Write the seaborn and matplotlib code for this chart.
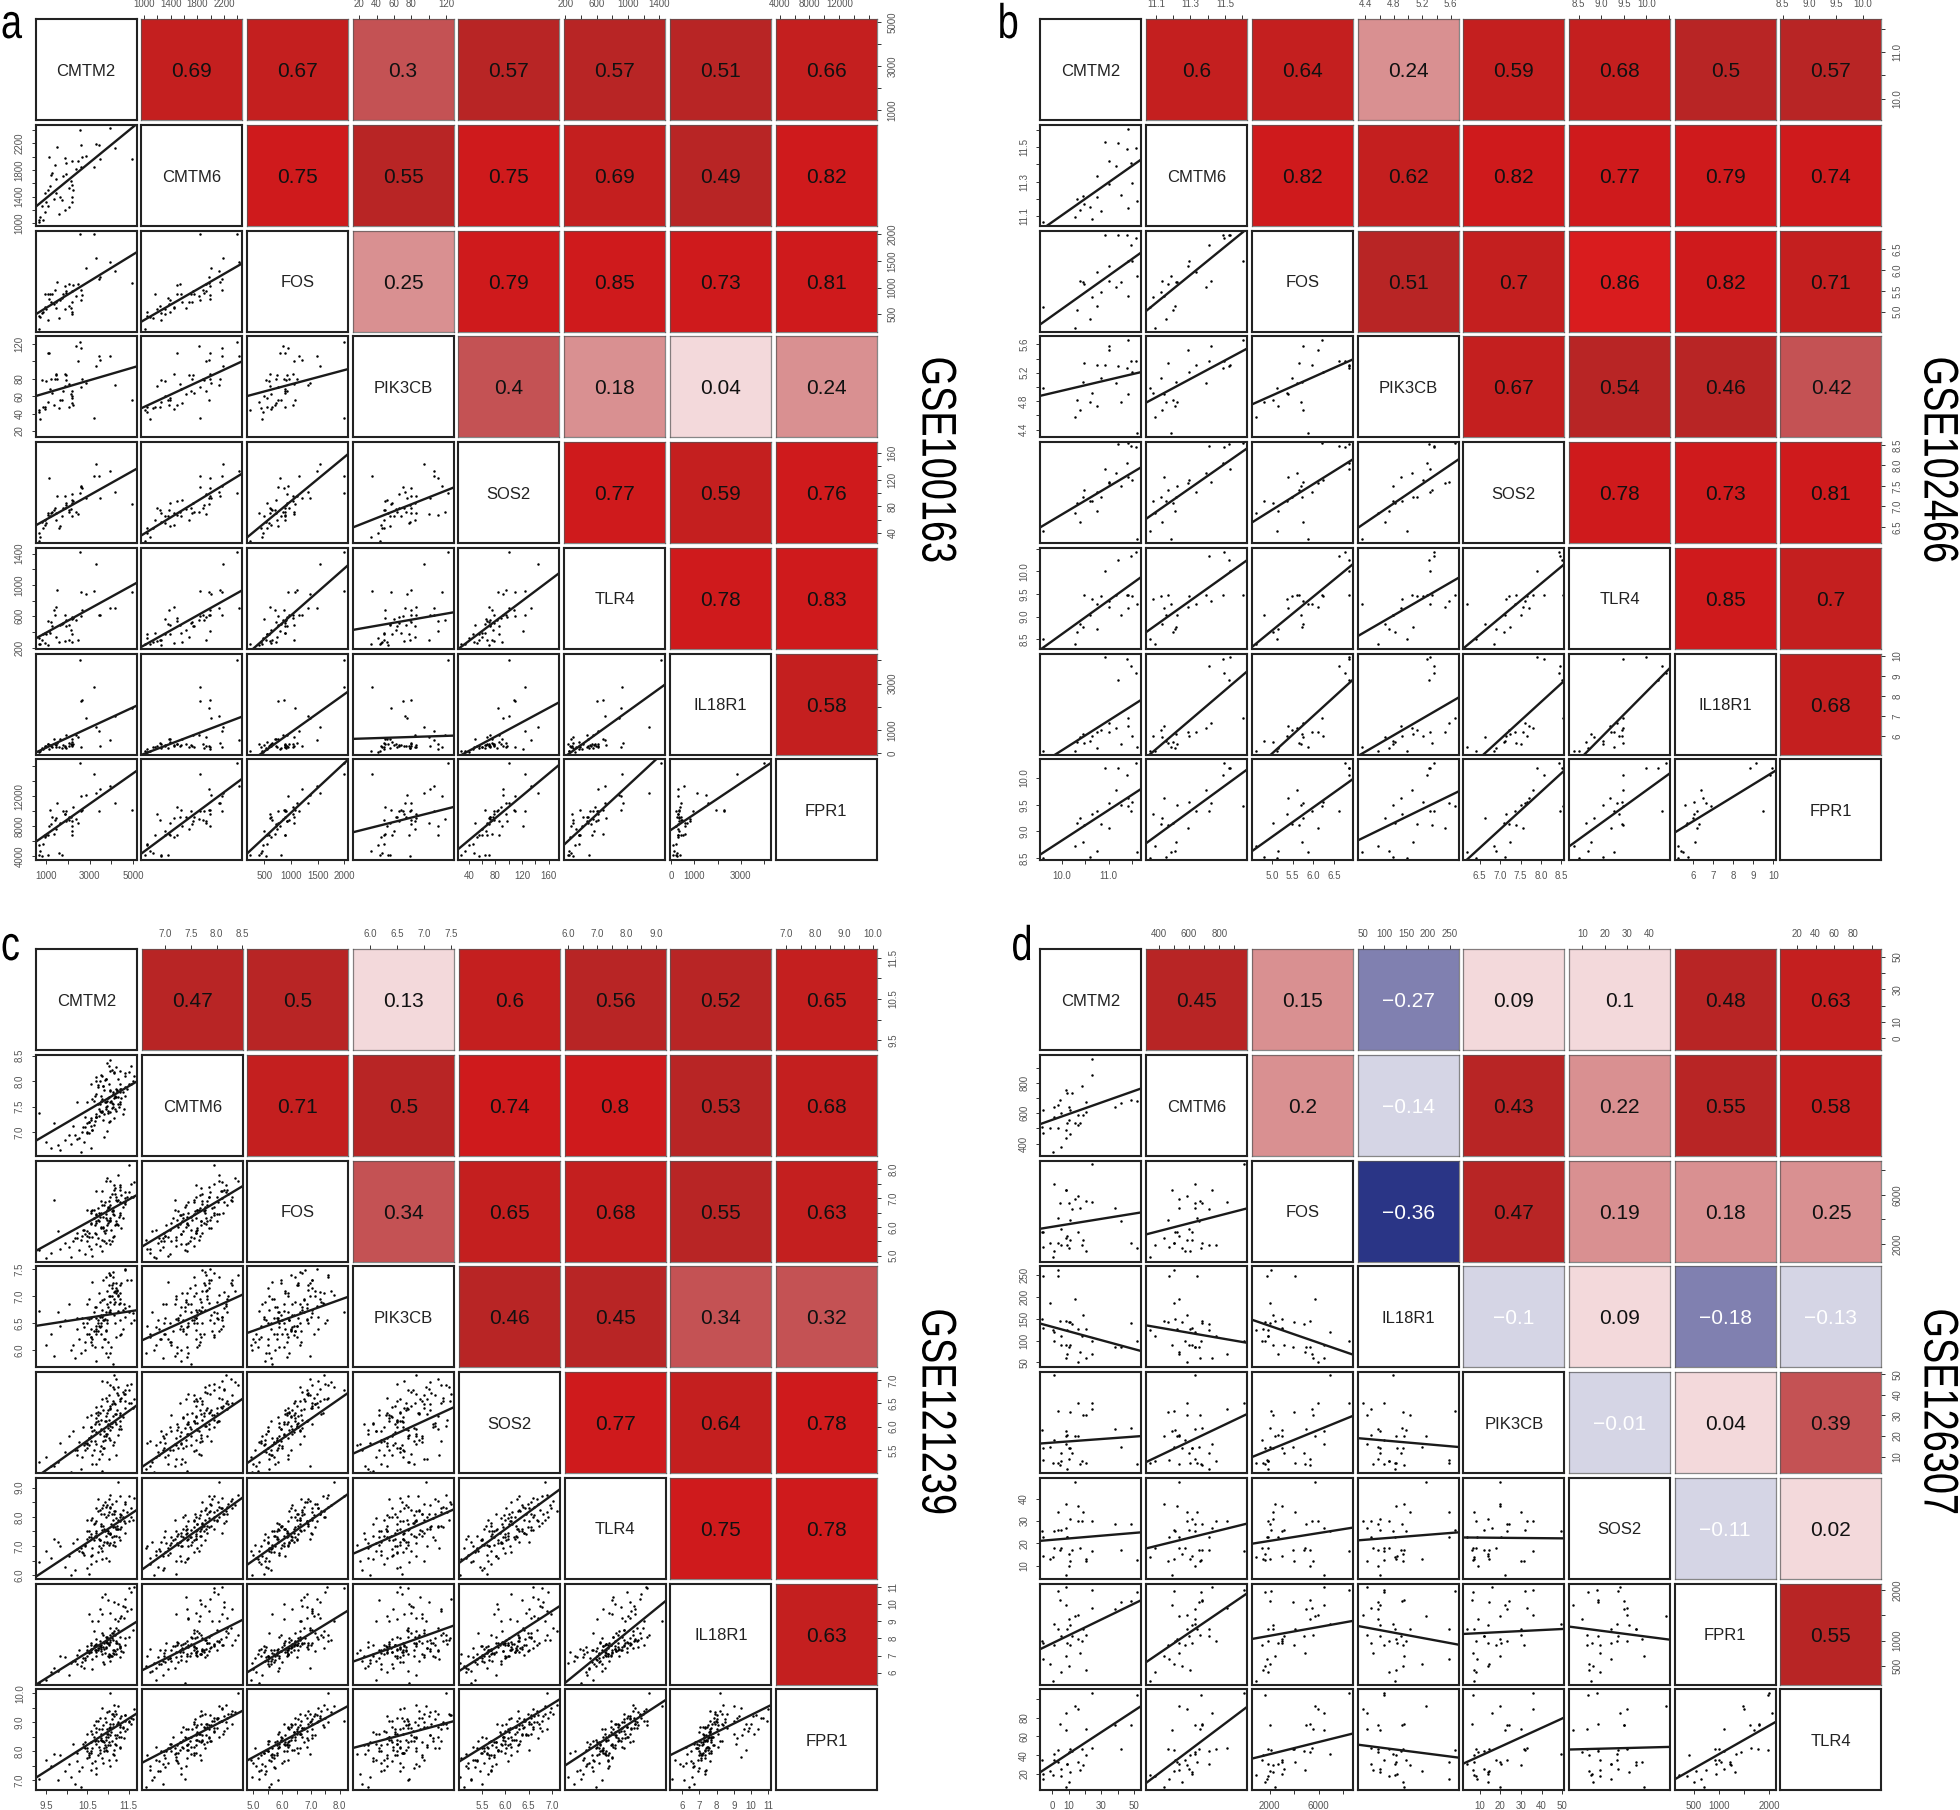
import numpy as np
import matplotlib
matplotlib.use("Agg")
import matplotlib.pyplot as plt
from matplotlib.colors import ListedColormap, BoundaryNorm
from matplotlib.patheffects import AbstractPathEffect
from matplotlib.transforms import Affine2D
import seaborn as sns

sns.set_theme(style="white")
plt.rcParams["font.family"] = ["Liberation Sans", "DejaVu Sans"]

GENES_ABC = ["CMTM2", "CMTM6", "FOS", "PIK3CB", "SOS2", "TLR4", "IL18R1", "FPR1"]
GENES_D = ["CMTM2", "CMTM6", "FOS", "IL18R1", "PIK3CB", "SOS2", "FPR1", "TLR4"]

# ---------- panel a: GSE100163 ----------
A_CMTM2 = [701,762,671,884,960,808,1036,1127,1096,1188,990,1385,1461,1613,1674,1765,1872,2069,2191,2221,2069,2252,2176,2221,1309,1264,1461,1796,1948,1446,1157,1522,1887,1917,2221,2480,2662,2860,2632,2404,2601,2571,3316,3437,3209,3467,3924,4152,4960]
A_CMTM6 = [1020,1095,1045,1045,1170,1255,1320,1255,1495,1555,1455,1370,1455,1135,1395,1355,1195,1245,1320,1395,1535,1495,1630,1570,1755,1720,1670,1705,1735,1880,1995,2145,1985,1905,1935,1935,1995,2005,1845,1820,2170,2395,2185,2175,1845,1970,2420,2130,1970]
A_FOS = [230,450,470,540,880,530,590,400,880,880,630,690,610,430,760,810,600,650,500,550,1060,1040,620,720,880,720,730,880,930,960,790,1110,1030,900,930,1060,870,1360,760,840,950,2000,1550,1154,2000,1200,1487,1311,1079]
A_PIK3CB = [44,34,42,48,48,78,77,53,110,68,45,50,85,46,55,55,72,48,60,58,74,50,62,52,63,80,84,66,84,80,110,80,85,78,66,100,80,75,70,118,115,122,95,106,35,101,106,73,56]
A_SOS2 = [28,34,40,47,60,56,55,70,67,65,52,75,70,48,50,65,78,75,66,85,72,88,76,90,72,70,60,78,85,78,122,96,96,82,98,68,108,92,109,72,110,100,144,125,125,92,133,101,84]
A_TLR4 = [250,240,320,370,390,300,370,230,540,380,260,680,720,270,490,500,280,300,560,370,490,580,430,270,480,530,340,510,480,620,410,930,610,550,590,300,680,890,600,550,910,1420,1267,620,927,610,705,705,910]
A_IL18R1 = [90,120,60,200,280,240,300,380,410,350,300,600,350,250,600,220,300,450,350,500,330,380,420,600,260,300,280,350,800,410,190,430,280,230,320,700,2280,1500,2270,800,280,4000,1127,944,2850,310,563,1590,1945]
A_FPR1 = [4200,4700,5500,5700,6800,4100,6800,4200,6900,10200,6600,7000,9100,4400,8400,4200,9600,8900,7400,6900,9300,10600,9200,8000,9200,8300,7600,10000,8700,8900,8100,11100,9700,10100,8700,8500,10200,12200,10000,9000,12000,16500,12500,10000,15000,13000,13400,11120,10140]
A_LIMITS = [(534,5146),(958,2472),(170,2069),(12.5,128.5),(24.5,176),(183,1472),(-57,4286),(3467,16950)]
A_TICKS = [[1000,2000,3000,4000,5000],[1000,1200,1400,1600,1800,2000,2200,2400],[500,1000,1500,2000],[20,40,60,80,100,120],[40,60,80,100,120,140,160],[200,400,600,800,1000,1200,1400],[0,1000,2000,3000,4000],[4000,6000,8000,10000,12000,14000,16000]]
A_LABELS = [["1000","3000","5000"],["1000","1400","1800","2200"],["500","1000","1500","2000"],["20","40","60","80","120"],["40","80","120","160"],["200","600","1000","1400"],["0","1000","3000"],["4000","8000","12000"]]
A_R = [[.69,.67,.3,.57,.57,.51,.66],[.75,.55,.75,.69,.49,.82],[.25,.79,.85,.73,.81],[.4,.18,.04,.24],[.77,.59,.76],[.78,.83],[.58]]
A_FIT = [[(1245,2485)],
         [(496,1662),(358,1455)],
         [(60,94),(46,100),(60,91)],
         [(51,136),(36,129),(33,158),(48,108)],
         [(315,1025),(208,931),(115,1250),(425,650),(183,1152)],
         [(28,2044),(-71,1579),(-452,2650),(620,760),(-141,2199),(-170,2960)],
         [(5915,15400),(4357,14370),(4357,16900),(7205,10590),(4980,16240),(5560,18060),(7430,16460)]]

# ---------- panel b: GSE102466 ----------
B_CMTM2 = [9.58,10.27,10.65,10.39,10.60,10.48,10.31,10.44,10.75,10.84,10.75,11.01,11.27,11.43,11.62,11.50,11.01,11.17,11.49,10.93,11.21,11.39,11.59,11.41]
B_CMTM6 = [11.069,11.098,11.082,11.136,11.156,11.171,11.200,11.217,11.213,11.132,11.331,11.285,11.225,11.148,11.186,11.294,11.419,11.390,11.406,11.527,11.521,11.488,11.492,11.606]
B_FOS = [5.12,4.62,5.36,5.75,4.82,5.66,5.04,5.72,5.15,5.48,5.96,6.10,5.71,5.38,5.86,6.23,5.74,5.60,6.61,6.85,6.85,6.85,6.77,6.22]
B_PIK3CB = [4.98,4.58,4.91,4.67,4.79,5.33,4.82,5.07,4.73,5.12,5.31,5.52,4.79,4.90,4.35,5.21,5.57,5.05,5.37,5.31,5.30,5.27,5.37,5.66]
B_SOS2 = [6.40,6.85,7.14,6.62,7.12,7.40,7.09,7.24,6.89,7.22,7.36,7.57,7.51,7.71,6.20,7.65,7.60,7.81,8.47,7.91,8.52,8.07,8.45,8.55]
B_TLR4 = [8.51,8.39,9.40,8.85,9.03,9.49,8.66,8.77,8.72,9.46,9.29,9.22,9.03,9.20,9.29,9.46,9.35,9.49,10.35,10.0,10.25,9.48,10.44,9.48]
B_IL18R1 = [5.24,5.24,6.01,5.96,5.75,5.63,5.70,6.10,5.38,6.30,6.18,6.20,5.58,6.47,5.46,6.01,6.63,6.38,9.48,9.93,8.81,9.85,9.15,6.89]
B_FPR1 = [8.50,8.72,9.33,9.25,8.53,9.13,9.15,8.80,8.64,9.14,9.39,9.07,9.50,9.63,8.62,9.56,9.53,9.78,9.39,10.19,10.19,10.06,10.28,9.47]
B_LIMITS = [(9.53,11.71),(11.044,11.627),(4.52,6.95),(4.29,5.71),(6.1,8.57),(8.29,10.52),(5.06,10.12),(8.46,10.35)]
B_TICKS = [[10,10.5,11,11.5],[11.1,11.2,11.3,11.4,11.5,11.6],[5,5.5,6,6.5],[4.4,4.6,4.8,5,5.2,5.4,5.6],[6.5,7,7.5,8,8.5],[8.5,9,9.5,10,10.5],[6,7,8,9,10],[8.5,9,9.5,10]]
B_LABELS = [["10.0","11.0"],["11.1","11.3","11.5"],["5.0","5.5","6.0","6.5"],["4.4","4.8","5.2","5.6"],["6.5","7.0","7.5","8.0","8.5"],["8.5","9.0","9.5","10.0"],["6","7","8","9","10"],["8.5","9.0","9.5","10.0"]]
B_R = [[.6,.64,.24,.59,.68,.5,.57],[.82,.62,.82,.77,.79,.74],[.51,.7,.86,.82,.71],[.67,.54,.46,.42],[.78,.73,.81],[.85,.7],[.68]]
B_FIT = [[(11.019,11.429)],
         [(4.70,6.43),(5.02,7.0)],
         [(4.876,5.21),(4.78,5.54),(4.754,5.387)],
         [(6.49,7.96),(6.695,8.42),(6.605,8.15),(6.47,8.15)],
         [(8.275,9.88),(8.66,10.25),(8.33,10.16),(8.57,9.86),(8.30,10.16)],
         [(4.59,7.81),(4.91,9.23),(4.19,8.81),(4.98,7.92),(4.14,8.76),(4.29,9.40)],
         [(8.57,9.80),(8.78,10.16),(8.63,9.98),(8.83,9.75),(8.41,10.14),(8.72,10.09),(8.98,10.14)]]

# ---------- panel c: GSE121239 (hand-estimated subset of the dense clouds) ----------
C_CMTM2 = [9.33,10.2,9.62,10.55,9.5,10.35,9.85,10.62,9.95,10.1, 10.45,9.78,10.7,10.25,10.05,10.85,10.38,10.6,9.7,10.5, 10.88,10.3,10.62,10.95,10.42,10.72,10.15,10.8,10.55,11.02, 10.5,11.05,10.68,10.25,10.9,10.78,11.12,10.4,10.85,10.6, 11.1,10.65,10.82,10.45,10.98,10.75,11.2,10.55,11.0,10.9, 10.72,11.15,10.58,10.95,11.28,10.84,10.5,11.05,10.68,11.18, 10.92,10.6,11.22,10.8,11.08,10.48,10.98,11.32,10.7,11.02, 11.0,10.7,11.3,10.88,11.15,10.62,11.05,10.78,11.25,10.95, 10.82,11.2,10.58,11.05,11.35,10.9,11.12,10.72,11.0,11.26, 11.1,10.75,11.38,10.96,11.18,10.65,11.3,10.85,11.05,11.42, 10.88,11.25,10.7,11.12,11.4,10.98,11.2,10.8,11.32,11.02, 11.18,10.82,11.45,11.05,11.3,10.92,11.12,11.5,10.75,11.22, 10.95,11.35,11.1,11.55,11.02,11.28,10.85,11.42,11.15,11.6, 11.3,11.05,11.5,11.2,11.62,10.98,11.4,11.15,11.55,11.25]
C_CMTM6 = [7.38,6.95,6.7,7.2,6.82,6.62,6.65,7.05,6.85,6.78, 7.1,6.75,7.3,6.88,6.95,7.42,7.0,6.7,7.18,6.98, 7.25,6.9,7.05,7.45,6.82,7.3,7.12,7.55,6.98,7.2, 7.0,7.4,7.22,7.6,6.92,7.32,7.5,7.1,7.65,7.28, 7.48,7.15,7.62,7.3,7.02,7.55,7.7,7.2,7.42,7.35, 7.3,7.68,7.12,7.5,7.78,7.4,7.6,7.22,7.72,7.45, 7.6,7.25,7.8,7.42,7.62,7.18,7.52,7.85,7.35,7.7, 7.38,7.75,7.55,7.9,7.28,7.65,7.82,7.45,7.7,7.6, 7.72,7.42,7.95,7.6,7.35,7.82,7.55,8.0,7.68,7.5, 7.58,7.88,7.45,8.05,7.72,7.62,7.95,7.4,7.8,8.1, 7.9,7.55,8.08,7.75,8.15,7.62,7.85,8.0,7.68,7.95, 7.7,8.12,7.85,8.2,7.6,8.02,7.78,8.18,7.92,7.82, 8.05,7.78,8.22,7.95,8.3,7.85,8.1,7.72,8.15,8.0, 8.2,8.42,7.95,8.28,8.1,8.35,7.88,8.18,8.3,8.05]
C_FOS = [5.2,5.6,5.1,5.35,4.92,5.55,5.25,5.0,5.45,4.95, 5.05,5.85,5.4,5.6,5.3,5.15,5.7,5.25,6.95,5.5, 6.0,5.2,5.65,5.45,5.9,5.75,5.5,5.35,5.8,5.55, 5.7,5.4,6.05,5.8,5.5,6.2,5.65,5.9,5.55,6.1, 5.5,6.3,5.95,5.75,6.05,5.6,6.2,5.65,6.15,5.85, 6.4,5.7,6.15,5.9,6.5,6.0,5.85,6.25,5.8,6.05, 5.8,6.55,6.1,6.35,5.9,6.6,6.25,5.95,6.45,6.2, 6.7,6.15,6.85,5.95,6.4,6.6,6.2,6.5,6.05,6.3, 6.9,6.1,6.5,7.05,6.3,6.75,6.45,6.2,6.65,6.35, 6.55,6.25,6.85,6.45,7.15,6.6,6.4,6.75,6.3,7.0, 6.35,6.95,7.25,6.55,6.85,6.6,7.05,6.45,7.1,6.7, 7.35,6.5,7.05,6.75,7.45,6.85,6.6,7.2,6.65,6.9, 7.6,6.7,7.15,7.5,6.9,7.4,7.25,6.8,7.3,7.05, 7.3,7.6,8.15,6.95,7.55,7.7,7.2,7.45,7.05,7.8]
C_PIK3CB = [6.72,5.85,6.3,6.58,6.1,5.95,6.45,6.2,6.55,6.0, 6.15,6.7,5.8,6.4,6.85,6.05,6.6,6.25,5.9,6.5, 6.55,6.2,7.27,5.95,6.42,6.8,6.1,6.62,6.3,7.0, 6.3,6.9,6.05,6.6,6.2,7.05,5.75,6.5,6.75,6.4, 7.15,6.35,6.65,6.0,6.85,6.5,6.25,6.95,5.88,6.55, 6.45,6.95,6.15,6.7,7.2,6.3,6.6,5.95,6.8,6.5, 6.2,6.6,7.1,6.42,6.05,6.85,6.55,7.25,6.35,6.7, 6.8,6.3,6.55,7.3,6.65,6.1,7.0,6.45,6.72,6.38, 6.5,7.05,6.25,6.75,6.4,6.95,7.35,6.6,6.15,6.85, 7.2,6.55,6.85,6.35,7.1,6.7,6.28,6.92,7.4,6.62, 6.65,7.0,6.4,7.25,6.78,6.5,7.15,6.9,6.3,7.42, 6.9,6.45,7.3,6.7,7.05,6.58,7.45,6.82,6.35,7.12, 7.35,6.75,7.0,6.5,7.2,6.88,6.62,7.48,7.08,6.68, 6.95,7.4,6.7,7.25,6.55,7.1,7.5,6.85,7.3,7.02]
C_SOS2 = [5.25,5.5,5.15,5.6,5.35,5.1,5.65,5.2,5.45,5.02, 5.5,5.25,5.62,5.4,5.8,5.05,5.35,5.7,5.15,5.55, 5.55,5.68,5.4,5.85,5.6,5.2,5.9,5.48,5.75,5.3, 5.65,5.72,6.05,5.5,5.9,5.3,5.6,6.0,5.42,5.8, 6.0,5.5,5.95,5.65,5.85,6.12,5.4,5.75,6.05,5.55, 5.88,5.68,6.25,5.8,6.02,5.58,6.2,5.92,5.7,6.1, 5.72,6.0,6.35,5.85,6.08,5.62,6.3,5.95,6.18,5.75, 5.98,6.3,6.12,5.7,6.5,5.9,6.4,6.05,5.82,6.22, 6.15,6.28,6.0,6.45,6.2,5.8,6.55,6.1,6.35,5.95, 6.08,6.32,6.7,6.12,6.48,5.92,6.25,6.6,6.02,6.4, 6.35,6.68,6.42,6.22,6.78,6.55,6.05,6.3,6.62,6.15, 6.28,6.45,6.9,6.38,6.6,6.12,6.85,6.5,6.25,6.72, 6.62,6.75,6.48,6.92,6.68,6.3,6.98,6.55,6.8,6.4, 6.55,6.9,6.78,7.02,6.6,6.95,6.7,7.1,6.5,6.85]
C_TLR4 = [6.45,6.2,6.6,6.05,6.85,6.95,7.0,6.7,6.3,6.0, 7.05,7.15,6.5,6.9,6.65,6.55,6.8,6.4,7.25,6.25, 7.05,6.85,6.95,6.6,6.7,7.35,7.1,7.2,7.3,6.5, 7.5,7.4,7.35,7.25,7.15,7.0,7.05,6.75,6.85,6.65, 7.3,7.2,6.95,7.0,7.1,6.8,7.35,7.5,7.45,7.6, 7.45,7.35,7.3,7.55,7.2,7.7,7.25,7.1,7.8,7.0, 7.5,7.4,7.6,7.2,7.75,7.9,7.15,7.65,7.3,7.05, 8.05,7.5,7.85,7.7,7.15,7.95,7.45,7.25,7.6,7.35, 7.75,7.6,7.9,7.4,8.0,8.1,7.65,7.85,7.5,7.3, 8.1,8.2,7.85,8.0,7.65,7.75,7.6,7.55,8.3,7.45, 8.4,7.9,8.3,7.7,7.8,7.55,7.95,8.25,8.05,8.15, 8.2,8.1,8.15,8.35,8.0,8.5,7.9,7.85,8.6,7.7, 8.35,8.25,8.45,8.0,8.6,8.7,8.3,8.5,8.1,7.9, 8.1,8.75,8.7,8.55,8.65,8.4,8.45,8.2,8.3,9.2]
C_IL18R1 = [5.4,6.7,6.05,7.2,5.6,6.4,7.0,6.2,6.9,6.55, 6.85,6.1,7.3,6.5,5.85,7.1,6.65,7.4,6.3,6.95, 6.6,7.35,6.8,7.5,6.25,7.0,6.7,7.55,7.15,6.9, 7.3,6.7,7.6,7.05,6.5,7.45,7.15,6.85,8.3,7.2, 7.0,7.55,7.25,6.75,7.7,7.35,7.1,9.4,6.95,7.4, 7.6,7.1,7.35,8.1,6.9,7.5,7.2,7.8,7.3,9.1, 7.15,7.7,7.4,9.7,7.0,7.55,8.0,7.25,7.65,7.1, 7.75,7.2,7.5,8.2,7.3,9.0,7.05,7.6,10.0,7.45, 7.4,7.85,7.6,9.5,7.2,7.7,8.3,7.35,10.2,7.65, 8.0,7.45,9.2,7.8,7.25,8.4,7.55,10.4,7.9,7.6, 7.5,8.5,7.95,7.3,9.8,8.1,7.7,7.85,9.3,7.65, 8.2,7.6,9.6,8.6,7.45,10.6,7.9,8.05,9.0,7.75, 7.85,9.9,8.3,10.7,7.6,8.1,9.4,8.0,10.1,8.5, 9.2,8.2,10.9,8.6,11.0,7.9,10.3,8.4,9.7,9.0]
C_FPR1 = [7.05,6.85,7.5,7.95,7.7,6.75,7.85,7.6,7.3,7.1, 8.1,7.0,7.2,7.65,7.55,7.75,7.45,7.35,7.9,8.0, 7.6,7.3,8.1,8.05,8.15,7.4,8.25,7.95,7.85,7.7, 7.75,7.5,7.65,7.95,8.0,8.15,7.9,8.25,8.35,8.3, 8.35,8.5,8.4,8.3,8.0,7.85,7.7,7.8,8.2,8.1, 8.65,7.85,8.0,8.15,8.1,8.45,8.6,8.2,8.35,8.25, 8.2,7.95,8.55,8.05,8.65,8.1,8.75,8.5,8.4,8.3, 8.5,8.25,8.15,8.35,8.05,8.6,8.85,8.75,8.95,8.4, 8.4,8.2,8.7,8.55,8.85,8.3,8.95,8.8,8.6,8.5, 9.1,8.35,8.45,8.5,8.55,8.9,8.65,8.75,8.95,9.05, 8.9,9.0,9.05,8.85,8.7,8.6,8.45,9.15,9.2,8.8, 9.4,8.6,8.75,8.8,8.85,9.15,9.3,9.0,9.05,8.95, 9.0,8.8,9.3,9.15,9.4,8.9,9.5,9.25,9.2,9.1, 9.15,10.0,9.05,9.3,9.45,9.35,9.25,9.6,8.95,9.55]
C_LIMITS = [(9.26,11.70),(6.54,8.51),(4.79,8.30),(5.68,7.55),(5.0,7.17),(5.88,9.33),(5.31,11.18),(6.64,10.14)]
C_TICKS = [[9.5,10,10.5,11,11.5],[7,7.5,8,8.5],[5,5.5,6,6.5,7,7.5,8],[6,6.5,7,7.5],[5.5,6,6.5,7],[6,6.5,7,7.5,8,8.5,9],[6,7,8,9,10,11],[7,7.5,8,8.5,9,9.5,10]]
C_LABELS = [["9.5","10.5","11.5"],["7.0","7.5","8.0","8.5"],["5.0","6.0","7.0","8.0"],["6.0","6.5","7.0","7.5"],["5.5","6.0","6.5","7.0"],["6.0","7.0","8.0","9.0"],["6","7","8","9","10","11"],["7.0","8.0","9.0","10.0"]]
C_R = [[.47,.5,.13,.6,.56,.52,.65],[.71,.5,.74,.8,.53,.68],[.34,.65,.68,.55,.63],[.46,.45,.34,.32],[.77,.64,.78],[.75,.78],[.63]]
C_FIT = [[(6.84,7.996)],
         [(5.17,7.11),(5.31,7.42)],
         [(6.45,6.74),(6.18,7.03),(6.32,6.99)],
         [(4.91,6.46),(5.13,6.60),(5.22,6.73),(5.42,6.42)],
         [(5.96,8.24),(6.19,8.66),(6.37,8.79),(6.74,8.26),(6.42,8.94)],
         [(5.31,8.98),(6.13,9.08),(6.03,9.63),(6.65,8.75),(6.09,9.88),(5.39,10.17)],
         [(7.08,9.31),(7.59,9.40),(7.68,9.57),(8.11,9.04),(7.63,9.80),(7.49,9.77),(7.86,9.60)]]

# ---------- panel d: GSE126307 ----------
D_CMTM2 = [0.1,5.4,8,11,-5.9,-6.6,-1.4,3.5,8,9.1,13.6,15.5,16.6,10.3,15.9,18.5,20.4,11,10.3,0.9,3.5,0.9,4.6,-5.9,9.1,8.4,12.1,17.8,24.2,24.2,20.4,38.1,41.8,48.2,51.6,5.4]
D_CMTM6 = [342,375,439,461,472,511,500,500,489,533,533,522,533,555,588,588,610,621,643,643,654,577,687,621,731,753,735,779,851,961,676,643,669,687,682,599]
D_FOS = [900,1900,2450,3945,1770,2993,2040,2100,6395,2670,5700,3000,4900,1630,5930,2310,1415,2310,5300,6880,4080,1400,5300,3000,1900,6400,4830,1900,5440,8480,5500,4950,3890,2040,1630,3200]
D_IL18R1 = [125,110,145,143,247,150,187,262,90,70,195,127,75,143,50,158,127,90,85,120,247,100,145,130,125,60,139,110,70,100,60,85,85,141,100,90]
D_PIK3CB = [7,8,20,31.6,8.5,23,14.5,32,22.4,20.5,20,20,6.5,14,36,30,7,14,9,49.5,7,18,6,14,3.8,16,12,8,33,36,30,23.4,14.7,24,6.5,12]
D_SOS2 = [14,18,37.5,12,22.8,25.5,13,26,6,23,47.5,36.5,18,15,30,34,13,31,10,25.5,34,18,17,14.5,23,27,17,30,30,16.5,12,28.8,17,28.8,12.7,26]
D_FPR1 = [205,371,700,918,638,1000,538,1983,1703,951,1484,1037,751,504,1504,1237,418,1317,1437,1337,1224,918,1800,950,1224,2056,1100,1000,1637,2000,1104,1617,1770,1790,1970,1100]
D_TLR4 = [18.6,17.5,6.2,47,15,34.6,22.8,46,66.5,31,92,32.8,24,11.5,89,30,40,22,43,41.6,32.8,34.6,73.6,20,31,85,44,47,48,106,68,72.5,47,72.5,104.5,25]
D_LIMITS = [(-7.4,54.5),(318,984),(545,8780),(38.5,270),(2,51),(4.1,49.2),(125,2130),(2.6,110)]
D_TICKS = [[0,10,20,30,40,50],[400,500,600,700,800,900],[2000,4000,6000,8000],[50,100,150,200,250],[10,20,30,40,50],[10,20,30,40],[500,1000,1500,2000],[20,40,60,80,100]]
D_LABELS = [["0","10","30","50"],["400","600","800"],["2000","6000"],["50","100","150","200","250"],["10","20","30","40","50"],["10","20","30","40"],["500","1000","2000"],["20","40","60","80"]]
D_R = [[.45,.15,-.27,.09,.1,.48,.63],[.2,-.14,.43,.22,.55,.58],[-.36,.47,.19,.18,.25],[-.1,.09,-.18,-.13],[-.01,.04,.39],[-.11,.02],[.55]]
D_FIT = [[(529,764)],
         [(3238,4570),(2775,4897)],
         [(139,76),(135,95),(148,68)],
         [(16.4,20),(7.4,30.7),(9.8,29.8),(19,14.7)],
         [(21.1,24.9),(17.7,28.8),(19.8,27),(21.3,24.9),(22.6,22.2)],
         [(831,1803),(571,1937),(1031,1390),(1290,918),(1131,1231),(1277,1017)],
         [(22,92.4),(10.4,91.4),(36.3,63),(51.2,37.4),(31,80),(46,48.8),(14.3,75.4)]]

PANELS = [
    dict(letter="a", title="GSE100163", genes=GENES_ABC, lim=A_LIMITS, ticks=A_TICKS, labels=A_LABELS, r=A_R, fit=A_FIT,
         data=[A_CMTM2,A_CMTM6,A_FOS,A_PIK3CB,A_SOS2,A_TLR4,A_IL18R1,A_FPR1],
         x0=35.5, y0=19.3, lx=0.5, ly=38, tx=935, ty=460),
    dict(letter="b", title="GSE102466", genes=GENES_ABC, lim=B_LIMITS, ticks=B_TICKS, labels=B_LABELS, r=B_R, fit=B_FIT,
         data=[B_CMTM2,B_CMTM6,B_FOS,B_PIK3CB,B_SOS2,B_TLR4,B_IL18R1,B_FPR1],
         x0=1040.4, y0=19.3, lx=997, ly=38, tx=1937, ty=460),
    dict(letter="c", title="GSE121239", genes=GENES_ABC, lim=C_LIMITS, ticks=C_TICKS, labels=C_LABELS, r=C_R, fit=C_FIT,
         data=[C_CMTM2,C_CMTM6,C_FOS,C_PIK3CB,C_SOS2,C_TLR4,C_IL18R1,C_FPR1],
         x0=36.0, y0=949.3, lx=0.5, ly=960, tx=935, ty=1412),
    dict(letter="d", title="GSE126307", genes=GENES_D, lim=D_LIMITS, ticks=D_TICKS, labels=D_LABELS, r=D_R, fit=D_FIT,
         data=[D_CMTM2,D_CMTM6,D_FOS,D_IL18R1,D_PIK3CB,D_SOS2,D_FPR1,D_TLR4],
         x0=1040.4, y0=949.3, lx=1011, ly=960, tx=1937, ty=1412),
]

W, H = 1960, 1810
CELL, PITCH = 101.0, 105.72
COLORS = ["#2a3586", "#8080b0", "#d5d5e5", "#f3d9db", "#d99091", "#c45254",
          "#b82525", "#c41f1f", "#cf1a1c", "#d91c1e"]
BOUNDS = [-0.4, -0.3, -0.15, 0.0, 0.14, 0.28, 0.425, 0.575, 0.725, 0.855, 1.0]
CMAP = ListedColormap(COLORS)
NORM = BoundaryNorm(BOUNDS, CMAP.N)


class Condense(AbstractPathEffect):
    """Narrow a real text artist along its reading direction."""

    def __init__(self, factor, anchor="center"):
        super().__init__()
        self.factor = factor
        self.anchor = anchor

    def draw_path(self, renderer, gc, tpath, affine, rgbFace=None):
        ext = tpath.get_extents()
        cx = ext.x0 if self.anchor == "left" else 0.5 * (ext.x0 + ext.x1)
        squeeze = Affine2D().translate(-cx, 0).scale(self.factor, 1).translate(cx, 0)
        renderer.draw_path(gc, tpath, squeeze + affine, rgbFace)


fig = plt.figure(figsize=(W / 100, H / 100), dpi=100, facecolor="white")


def rect(x, y):
    return [x / W, 1 - (y + CELL) / H, CELL / W, CELL / H]


def fmt_ticks(ax, axis, ticks, labels):
    shown = []
    for t in ticks:
        cand = [l for l in labels if float(l) == t]
        shown.append(cand[0] if cand else "")
    if axis == "x":
        ax.set_xticks(ticks, shown)
    else:
        ax.set_yticks(ticks, shown)
        for tk in ax.yaxis.get_major_ticks():
            for lab in (tk.label1, tk.label2):
                lab.set_rotation(90)
                lab.set_va("center")


for p in PANELS:
    n = len(p["genes"])
    for row in range(n):
        for col in range(n):
            x = p["x0"] + col * PITCH
            y = p["y0"] + row * PITCH
            ax = fig.add_axes(rect(x, y))
            xlo, xhi = p["lim"][col]
            ylo, yhi = p["lim"][row]
            if col > row:
                val = p["r"][row][col - row - 1]
                txt = f"{val:g}".replace("-", "\u2212")
                sns.heatmap(np.array([[val]]), ax=ax, cmap=CMAP, norm=NORM, cbar=False,
                            annot=np.array([[txt]]), fmt="", xticklabels=False, yticklabels=False,
                            annot_kws={"fontsize": 15, "va": "center_baseline",
                                       "color": "white" if val < 0 else "#111111"})
                ax.set_xlabel("")
                ax.set_ylabel("")
                ax = fig.add_axes(rect(x, y), facecolor="none")
                for s in ax.spines.values():
                    s.set_edgecolor("#555555")
                    s.set_alpha(0.7)
                    s.set_linewidth(0.9)
            else:
                ax.set_facecolor("white")
                for s in ax.spines.values():
                    s.set_edgecolor("#222222")
                    s.set_linewidth(1.5)
                    s.set_visible(True)
                if col == row:
                    ax.text(0.5, 0.5, p["genes"][row], transform=ax.transAxes, ha="center",
                            va="center_baseline", fontsize=12, color="#222222")
                else:
                    sns.scatterplot(x=p["data"][col], y=p["data"][row], ax=ax, s=3.2, color="black",
                                    linewidth=0, legend=False)
                    fy = p["fit"][row - 1][col]
                    sns.lineplot(x=[xlo, xhi], y=list(fy), ax=ax, color="#1a1a1a", linewidth=1.7,
                                 estimator=None, legend=False)
                    ax.set_xlabel("")
                    ax.set_ylabel("")
            ax.set_xlim(xlo, xhi)
            ax.set_ylim(ylo, yhi)
            ax.set_xticks([])
            ax.set_yticks([])
            top = row == 0 and col % 2 == 1
            bottom = row == n - 1 and col % 2 == 0
            left = col == 0 and row % 2 == 1
            right = col == n - 1 and row % 2 == 0
            if top or bottom:
                fmt_ticks(ax, "x", p["ticks"][col], p["labels"][col])
                ax.tick_params(axis="x", top=top, labeltop=top, bottom=bottom, labelbottom=bottom,
                               length=3, width=0.7, pad=4.5, labelsize=7, color="#333333", labelcolor="#555555")
            if left or right:
                fmt_ticks(ax, "y", p["ticks"][row], p["labels"][row])
                ax.tick_params(axis="y", left=left, labelleft=left, right=right, labelright=right,
                               length=3, width=0.7, pad=5, labelsize=7, color="#333333", labelcolor="#555555")
    fig.text(p["lx"] / W, 1 - p["ly"] / H, p["letter"], fontsize=35, color="black",
             ha="left", va="baseline", path_effects=[Condense(0.78, "left")])
    fig.text(p["tx"] / W, 1 - p["ty"] / H, p["title"], fontsize=35, color="black",
             rotation=270, ha="center", va="center", path_effects=[Condense(0.78)])

fig.savefig("out.png", dpi=100, facecolor="white")
